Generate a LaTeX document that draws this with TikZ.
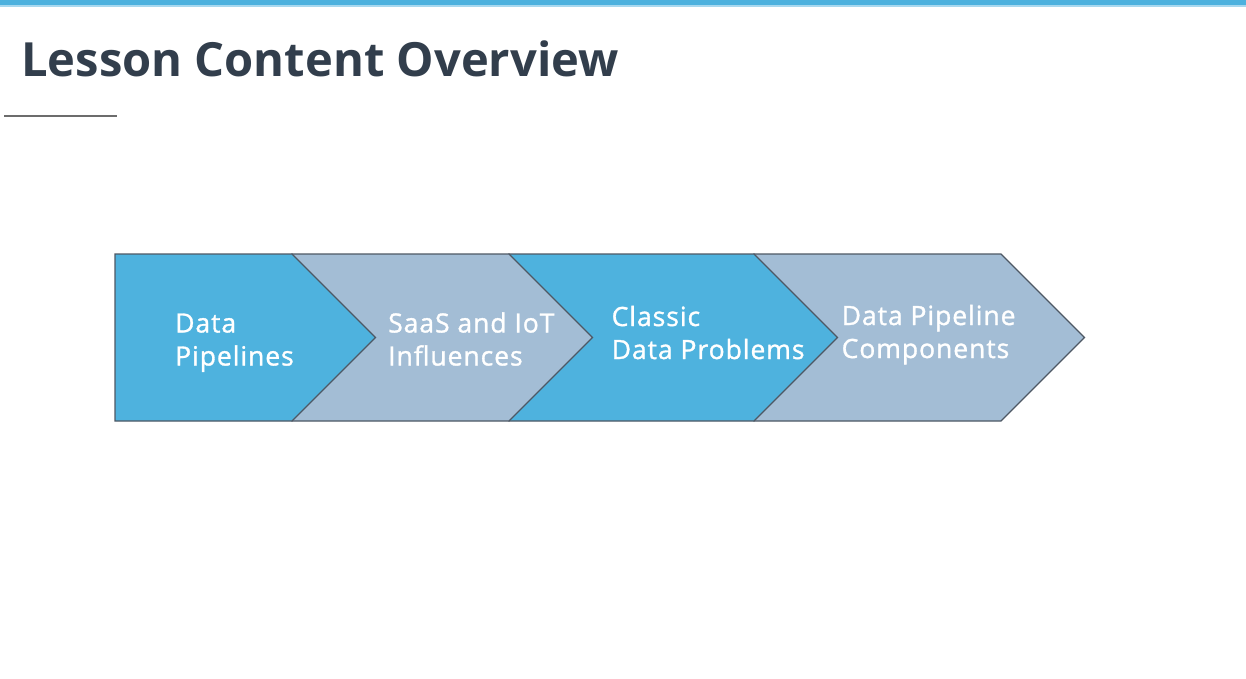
\documentclass[tikz,border=0pt]{standalone}
\usepackage{fontspec}
\setmainfont{Open Sans}
\newfontfamily\stepfont{Open Sans}[FakeBold=1.2, LetterSpace=3.6]
\usepackage{tikz}
\usetikzlibrary{positioning,calc}
\usepackage{xcolor}
\definecolor{barblue}{RGB}{77,177,222}
\definecolor{barlight}{RGB}{168,216,239}
\definecolor{stepblue}{RGB}{78,178,222}
\definecolor{stepgray}{RGB}{163,189,213}
\definecolor{edgegray}{RGB}{78,88,100}
\definecolor{titledark}{RGB}{50,62,76}

\begin{document}
\begin{tikzpicture}[
            x=1pt, y=-1pt,
            chev/.style={draw=edgegray, line width=1.1pt, line join=miter},
            steplabel/.style={anchor=base west, inner sep=0pt, align=left,
                        text=white, font=\stepfont\fontsize{26.5}{33}\selectfont},
            title/.style={anchor=base west, inner sep=0pt, text=titledark,
                        font=\fontsize{47.1}{56}\selectfont\bfseries}
        ]
            \useasboundingbox (0,0) rectangle (1246,678);
            \fill[white] (0,0) rectangle (1246,678);
            \fill[barblue] (0,0) rectangle (1246,5);
            \fill[barlight] (0,5) rectangle (1246,6.5);

            \node[title] (heading) at (21,76.5) {Lesson Content Overview};
            \draw[gray!85!black, line width=1.5pt] (4,116) -- (117,116);

            % chevrons, last one first so each tip lies on top
            \draw[chev, fill=stepgray] (754,254) -- (1001,254) -- (1084.5,337.5) -- (1001,421) -- (754,421) -- cycle;
            \draw[chev, fill=stepblue] (509,254) -- (754,254) -- (837.5,337.5) -- (754,421) -- (509,421) -- cycle;
            \draw[chev, fill=stepgray] (292,254) -- (509,254) -- (592.5,337.5) -- (509,421) -- (292,421) -- cycle;
            \draw[chev, fill=stepblue] (115,254) -- (292,254) -- (375.5,337.5) -- (292,421) -- (115,421) -- cycle;

            \node[steplabel] (pipelines) at (175,365.5) {Data\\Pipelines};
            \node[steplabel] (saas) at (388,365.5) {SaaS and IoT\\Influences};
            \node[steplabel] (classic) at (611.5,359) {Classic\\Data Problems};
            \node[steplabel] (components) at (841.5,358) {Data Pipeline\\Components};
        \end{tikzpicture}
\end{document}
